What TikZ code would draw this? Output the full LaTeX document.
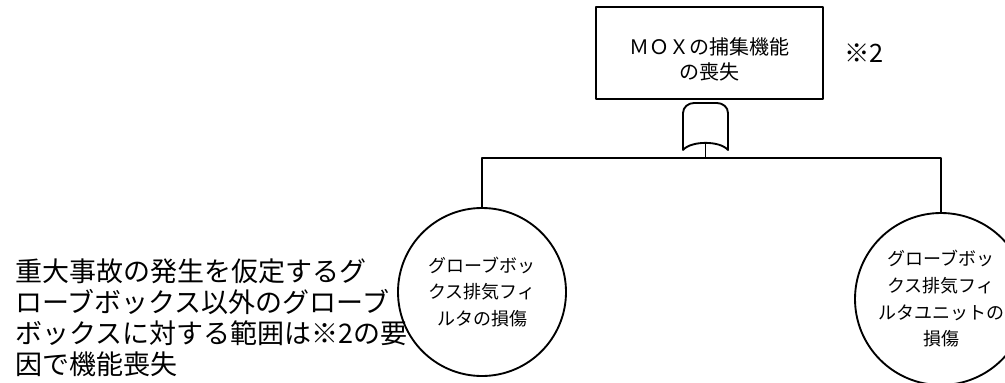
\documentclass[tikz,border=0pt]{standalone}
\usepackage{fontspec}
\setmainfont{Noto Sans CJK JP}
\usetikzlibrary{positioning}
\tikzset{
  topbox/.style={draw, line width=1.4pt, minimum width=170pt, minimum height=69pt, inner sep=0pt},
  basic/.style={draw, circle, line width=1.4pt, inner sep=0pt, align=center,
    font=\fontsize{13.5pt}{20pt}\selectfont},
  link/.style={line width=1.1pt}
}
\begin{document}
\begin{tikzpicture}[x=0.75pt, y=-0.75pt, line join=round, line cap=round]
				\useasboundingbox (0,0) rectangle (1005,382);
				\clip (0,0) rectangle (1005,382);
				% 1. Vẽ hộp sự kiện đỉnh
				\node[topbox] (top) at (709.5,53) {};
				\node[align=center, inner sep=0pt, font=\fontsize{15pt}{18.75pt}\selectfont]
				(toptext) at ([yshift=-4.5pt]top.center) {ＭＯＸの捕集機能\\の喪失};
				\node[right=15pt of top, inner sep=0pt, font=\fontsize{19pt}{22pt}\selectfont] (note) {※2};
				
				% 2. Vẽ cổng (gate)
				\coordinate (gateL) at (683,150);
				\coordinate (gateR) at (728,150);
				\coordinate (gate) at (705.5,143);
				\draw[line width=1.4pt] (gateL) -- (683,113) to[out=90, in=180] (694,103) -- (717,103)
				to[out=0, in=90] (728,113) -- (gateR) .. controls (720,140.5) and (691,140.5) .. (gateL);
				
				% 3. Vẽ các sự kiện cơ bản
				\node[basic, minimum size=126pt] (filter) at (482,292) {グローブボッ\\クス排気フィ\\ルタの損傷};
				\node[basic, minimum size=129pt] (unit) at (941,299) {グローブボッ\\クス排気フィ\\ルタユニットの\\損傷};
				
				% 4. Nối các đường
				\coordinate (bar) at (705.5,158);
				\draw[link] (gate) -- (bar);
				\draw[link] (filter.north) |- (bar) -| (unit.north);
				
				% 5. Ghi chú bên trái
				\node[anchor=west, align=left, inner sep=0pt, font=\fontsize{20.25pt}{23.25pt}\selectfont]
				(remark) at (15,318) {重大事故の発生を仮定するグ\\ローブボックス以外のグローブ\\ボックスに対する範囲は※2の要\\因で機能喪失};
				
			\end{tikzpicture}
\end{document}
